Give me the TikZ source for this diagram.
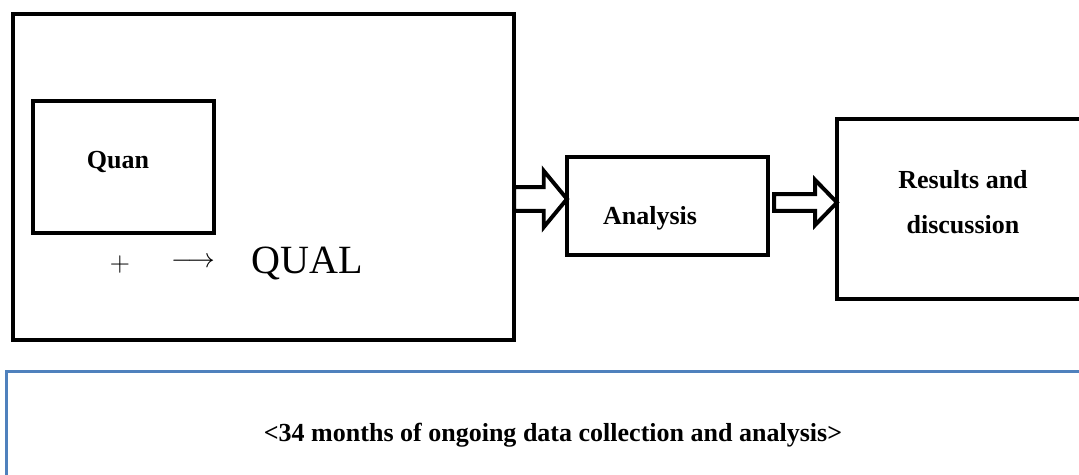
\documentclass[tikz,border=0pt]{standalone}
\usepackage{fontspec}
\setmainfont{Liberation Serif}
\usetikzlibrary{calc}

\definecolor{frameblue}{RGB}{79,129,189}

\tikzstyle{box}=[draw=black,line width=2.8pt,inner sep=0pt,outer sep=0pt]
\tikzstyle{fatline}=[draw=black,line width=2.8pt,fill=white,line join=miter]
\tikzstyle{bold}=[font=\fontsize{18.5}{32}\selectfont\bfseries,align=center]

% hollow block arrow: tail point, tip point, shaft half height, head half height, head length
\newcommand\fatarrow[5]{%
   \draw[fatline] let \p1=(#1), \p2=(#2) in
      (\x1,\y1+#3) -- (\x2-#5,\y1+#3) -- (\x2-#5,\y1+#4) -- (\x2,\y2)
      -- (\x2-#5,\y1-#4) -- (\x2-#5,\y1-#3) -- (\x1,\y1-#3) -- cycle;
}

\begin{document}
\begin{tikzpicture}[x=0.025cm,y=-0.025cm]

   \useasboundingbox (0,0) rectangle (1079,474);
   \clip (0,0) rectangle (1079,474);

   % Collection stage
   \node[box,minimum width=12.525cm,minimum height=8.15cm] (collect) at (263.5,177) {};
   \node[box,minimum width=4.525cm,minimum height=3.3cm,
         label={[bold,xshift=-0.14cm,yshift=0.12cm]center:Quan}] (quan) at (123.5,167) {};

   \node (plus) at (120,265) {\scalebox{1.15}{\LARGE$+$}};
   \node (leadsto) at (193,263) {\scalebox{1.12}{\LARGE$\longrightarrow$}};
   \node[font=\fontsize{28.5}{34}\selectfont,anchor=base,inner sep=0pt] (qual) at (307.5,273) {QUAL};

   % Analysis and results
   \node[box,minimum width=5.025cm,minimum height=2.45cm] (analysis) at (667.5,206) {};
   \node[box,minimum width=6.3cm,minimum height=4.5cm] (results) at (963,209) {};

   \coordinate (tipA) at ($(analysis.west)+(0,-7)$);
   \coordinate (tailB) at ($(analysis.east)+(6,-3.5)$);

   \fatarrow{collect.east |- tipA}{tipA}{8.5pt}{20pt}{16.5pt}
   \fatarrow{tailB}{results.west |- tailB}{6pt}{16pt}{15.5pt}

   % redraw the box edges over the arrow ends
   \draw[line width=2.8pt] (collect.north east) -- (collect.south east);
   \draw[line width=2.8pt] (analysis.north west) -- (analysis.south west);
   \draw[line width=2.8pt] (results.north west) -- (results.south west);

   \node[bold] at ($(analysis)+(-17.5,12)$) {Analysis};
   \node[bold] at ($(results)+(0,-7)$) {Results and\\discussion};

   % Time span
   \node[draw=frameblue,line width=2.1pt,minimum width=27.3cm,minimum height=3.175cm,bold]
      (span) at (553,435) {<34 months of ongoing data collection and analysis>};

\end{tikzpicture}
\end{document}
